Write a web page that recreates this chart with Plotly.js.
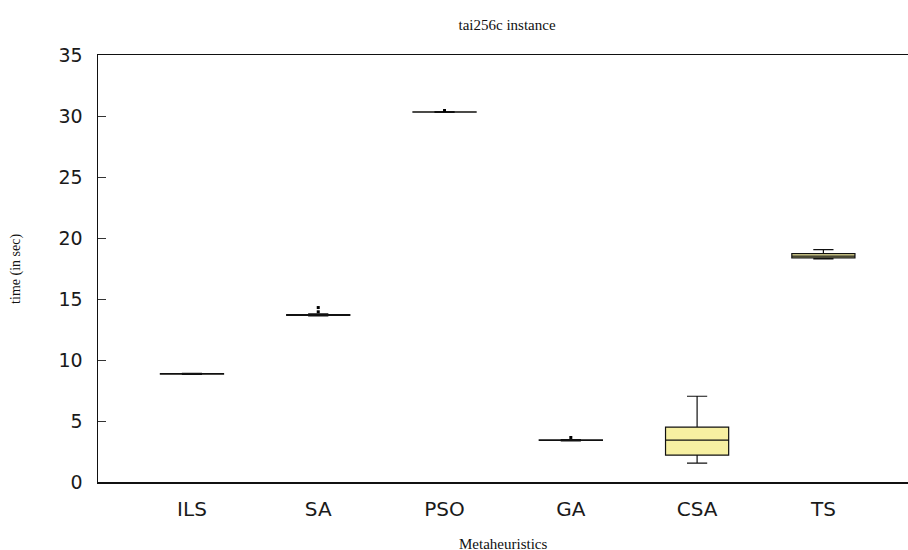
<!DOCTYPE html>
<html>
<head>
<meta charset="utf-8">
<script src="https://cdn.plot.ly/plotly-3.0.1.min.js"></script>
<style>html,body{margin:0;padding:0;background:#fff;}#chart{width:908px;height:550px;}</style>
</head>
<body>
<div id="chart"></div>
<script>
const categories = ['ILS', 'SA', 'PSO', 'GA', 'CSA', 'TS'];
const lowerFence = [8.82, 13.62, 30.29, 3.37, 1.55, 18.29];
const q1 = [8.84, 13.66, 30.32, 3.40, 2.20, 18.37];
const median = [8.86, 13.70, 30.33, 3.42, 3.43, 18.52];
const q3 = [8.88, 13.73, 30.35, 3.45, 4.50, 18.72];
const upperFence = [8.90, 13.78, 30.37, 3.48, 7.03, 19.05];
const outlierCats = ['SA', 'SA', 'PSO', 'GA'];
const outlierVals = [14.30, 13.95, 30.45, 3.65];
const yTicks = [0, 5, 10, 15, 20, 25, 30, 35];

const traces = [{
  type: 'box',
  x: categories,
  q1: q1, median: median, q3: q3,
  lowerfence: lowerFence, upperfence: upperFence,
  width: 0.5,
  whiskerwidth: 0.32,
  fillcolor: '#f7f0a2',
  line: {color: '#111', width: 1.2},
  boxpoints: false,
  hoverinfo: 'skip',
  showlegend: false
}, {
  type: 'scatter',
  mode: 'markers',
  x: outlierCats,
  y: outlierVals,
  marker: {color: '#000', size: 3, symbol: 'square'},
  hoverinfo: 'skip',
  showlegend: false
}];

const layout = {
  width: 908, height: 550,
  margin: {l: 98, r: 0, t: 55, b: 68, pad: 0},
  paper_bgcolor: '#fff', plot_bgcolor: '#fff',
  title: {text: 'tai256c instance', xref: 'paper', x: 0.505, xanchor: 'center', y: 0.955, yanchor: 'middle',
          font: {family: 'Liberation Serif, serif', size: 15, color: '#111'}},
  xaxis: {
    type: 'category', categoryarray: categories,
    range: [-0.744, 5.67],
    showline: true, linecolor: '#111', linewidth: 1.5, mirror: true,
    ticks: '', showgrid: false, zeroline: false,
    ticklabelstandoff: 8,
    tickfont: {family: 'DejaVu Sans, sans-serif', size: 20, color: '#1a1a1a'}
  },
  yaxis: {
    range: [0, 35], tickvals: yTicks,
    showline: true, linecolor: '#111', linewidth: 1.5,
    ticks: 'inside', ticklen: 8, tickcolor: '#333', tickwidth: 1,
    ticklabelstandoff: 10,
    showgrid: false, zeroline: false,
    tickfont: {family: 'DejaVu Sans, sans-serif', size: 19, color: '#1a1a1a'}
  },
  annotations: [{
    text: 'time (in sec)', xref: 'paper', yref: 'paper', x: -0.102, y: 0.5,
    xanchor: 'center', yanchor: 'middle', textangle: -90, showarrow: false,
    font: {family: 'Liberation Serif, serif', size: 14, color: '#111'}
  }, {
    text: 'Metaheuristics', xref: 'paper', yref: 'paper', x: 0.5, y: -0.122,
    xanchor: 'center', yanchor: 'top', showarrow: false,
    font: {family: 'Liberation Serif, serif', size: 15, color: '#111'}
  }]
};

Plotly.newPlot('chart', traces, layout, {displayModeBar: false, staticPlot: true});
</script>
</body>
</html>
